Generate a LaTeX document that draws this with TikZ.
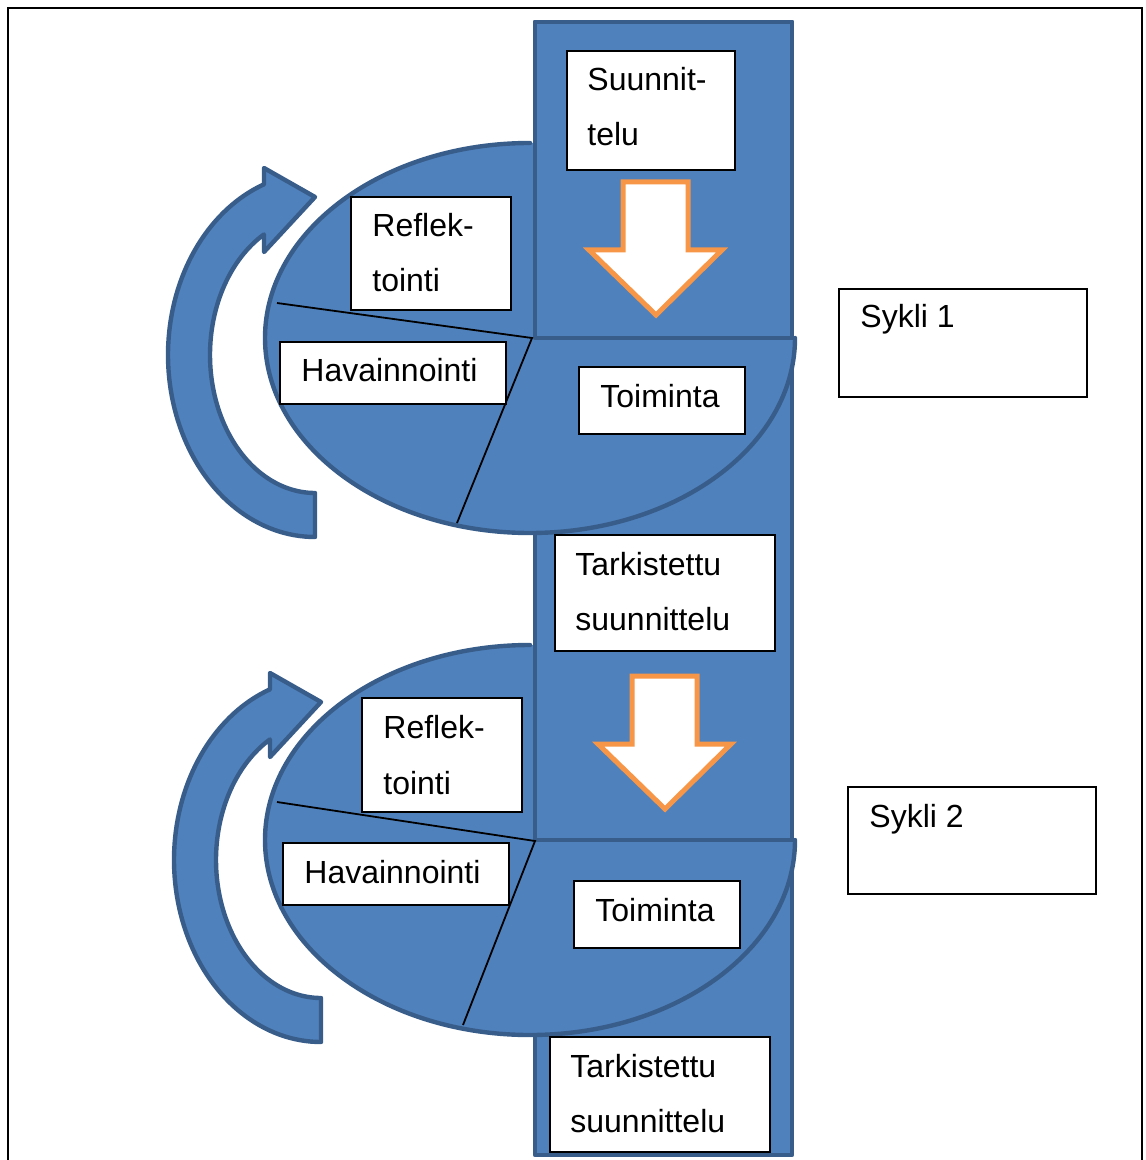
\documentclass[tikz,border=0pt]{standalone}
\usepackage{fontspec}
\setmainfont{Liberation Sans}
\usetikzlibrary{fit}
\definecolor{fillblue}{HTML}{4F81BD}
\definecolor{edgeblue}{HTML}{385D8A}
\definecolor{orng}{HTML}{F79646}
\begin{document}
\begin{tikzpicture}[x=0.5pt,y=-0.5pt,
  bluepart/.style={fill=fillblue, draw=edgeblue, line width=2.2pt, line join=round},
  blueedge/.style={draw=edgeblue, line width=2.2pt, line join=round},
  labelbox/.style={draw=black, fill=white, line width=0.75pt, inner sep=0pt},
  lbl/.style={anchor=base west, inner sep=0pt, font=\fontsize{16pt}{19pt}\selectfont},
  pieline/.style={draw=black, line width=0.9pt},
  downarrow/.style={fill=white, draw=orng, line width=2.5pt, line join=miter},
  framel/.style={draw=black, line width=1pt}]
\useasboundingbox (0,0) rectangle (1145,1160);
% frame
\draw[framel] (7,8) -- (1143,8);
\draw[framel] (8,8) -- (8,1160);
\draw[framel] (1142,8) -- (1142,1160);
% column
\path[bluepart] (535,22) rectangle (792,1155);
% cycle 2 ellipse (three quarters) and segment
\fill[fillblue] (530,645) arc [start angle=270, end angle=0, x radius=265, y radius=195] -- (545,840) -- (545,645) -- cycle;
\draw[blueedge, line cap=round] (530,645) arc [start angle=270, end angle=0, x radius=265, y radius=195];
\fill[fillblue] (535,560) rectangle (792,840);
\draw[blueedge] (535,560) -- (535,840) -- (794,840);
\draw[blueedge] (792,560) -- (792,840);
% cycle 1 ellipse (three quarters) and segment
\fill[fillblue] (530,143) arc [start angle=270, end angle=0, x radius=265, y radius=195] -- (545,338) -- (545,143) -- cycle;
\draw[blueedge, line cap=round] (530,143) arc [start angle=270, end angle=0, x radius=265, y radius=195];
\path[bluepart] (535,22) rectangle (792,338);
\draw[blueedge] (792,338) -- (794,338);
% pie lines
\coordinate (c1) at (532,338);
\coordinate (c2) at (535,841);
\draw[pieline] (277,303) -- (c1) -- (457,523);
\draw[pieline] (277,802) -- (c2) -- (463,1025);
% circular arrows
\path[bluepart] plot[domain=90:249.7,samples=80] ({315+147*cos(\x)},{355+182*sin(\x)})
  -- (264,168) -- (315,197) -- (264,252)
  -- plot[domain=240.9:90,samples=80] ({315+105*cos(\x)},{355+138*sin(\x)}) -- cycle;
\begin{scope}[shift={(6,505)}]
\path[bluepart] plot[domain=90:249.7,samples=80] ({315+147*cos(\x)},{355+182*sin(\x)})
  -- (264,168) -- (315,197) -- (264,252)
  -- plot[domain=240.9:90,samples=80] ({315+105*cos(\x)},{355+138*sin(\x)}) -- cycle;
\end{scope}
% orange down arrows
\path[downarrow] (623,182) -- (688,182) -- (688,250) -- (722,250) -- (656,315) -- (589,250) -- (623,250) -- cycle;
\begin{scope}[shift={(9,494)}]
\path[downarrow] (623,182) -- (688,182) -- (688,250) -- (722,250) -- (656,315) -- (589,250) -- (623,250) -- cycle;
\end{scope}
% boxes
\node[labelbox, fit={(567,51) (735,170)}] (suun) {};
\node[lbl] (suunA) at (587,91) {Suunnit-};
\node[lbl] (suunB) at (587,146) {telu};
\node[labelbox, fit={(351,197) (511,310)}] (ref1) {};
\node[lbl] (ref1A) at (372,237) {Reflek-};
\node[lbl] (ref1B) at (372,292) {tointi};
\node[labelbox, fit={(280,342) (506,404)}] (hav1) {};
\node[lbl] (hav1A) at (301,381) {Havainnointi};
\node[labelbox, fit={(579,367) (745,434)}] (toi1) {};
\node[lbl] (toi1A) at (600,407) {Toiminta};
\node[labelbox, fit={(555,535) (775,651)}] (tar1) {};
\node[lbl] (tar1A) at (575,575) {Tarkistettu};
\node[lbl] (tar1B) at (575,630) {suunnittelu};
\node[labelbox, fit={(362,698) (522,812)}] (ref2) {};
\node[lbl] (ref2A) at (383,738) {Reflek-};
\node[lbl] (ref2B) at (383,794) {tointi};
\node[labelbox, fit={(283,843) (509,905)}] (hav2) {};
\node[lbl] (hav2A) at (304,883) {Havainnointi};
\node[labelbox, fit={(574,881) (740,948)}] (toi2) {};
\node[lbl] (toi2A) at (595,921) {Toiminta};
\node[labelbox, fit={(550,1037) (770,1152)}] (tar2) {};
\node[lbl] (tar2A) at (570,1077) {Tarkistettu};
\node[lbl] (tar2B) at (570,1132) {suunnittelu};
\node[labelbox, fit={(839,289) (1087,397)}] (syk1) {};
\node[lbl] (syk1A) at (860,328) {Sykli 1};
\node[labelbox, fit={(848,787) (1096,894)}] (syk2) {};
\node[lbl] (syk2A) at (869,827) {Sykli 2};
\end{tikzpicture}
\end{document}
